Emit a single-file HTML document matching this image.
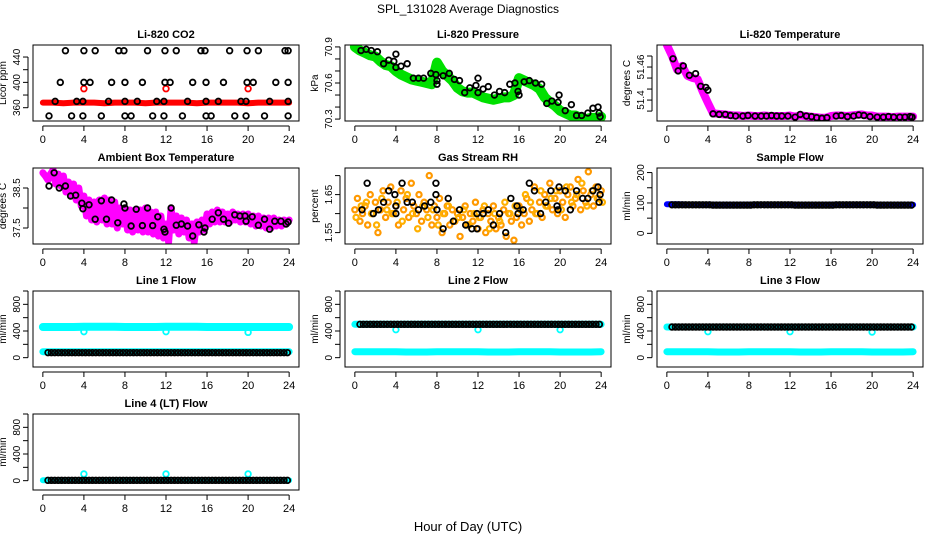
<!DOCTYPE html>
<html><head><meta charset="utf-8"><style>
body{margin:0;background:#fff}
svg text{font-family:"Liberation Sans",sans-serif}
</style></head><body>
<svg id="c" width="936" height="540" viewBox="0 0 936 540">
<text x="468" y="13" font-size="12" text-anchor="middle">SPL_131028  Average Diagnostics</text>
<text x="468" y="531" font-size="13" text-anchor="middle">Hour of Day (UTC)</text>
</svg>
<script>
// ---- data ----
const xTicks=[0,4,8,12,16,20,24];
const co2Red=[368,368,367,368,368,368,367,368,368,368,367,368,368,368,368,367,368,368,368,368,367,368,368,368,368];
const co2RedSpikesT=[4,12,20];
const co2RedSpikesV=[390,390,390];
const co2BlkT=[2.2,4,5.1,7.4,7.9,10.2,11.9,13,15.4,15.8,18.2,19.9,21,23.6,23.9,1.7,4,4.6,6.7,8,9.7,11.9,12.4,14.6,15.9,17.6,19.9,20.5,22.7,23.9,1.2,3.3,3.9,6.4,8,9.2,11.1,11.8,14.1,15.9,17.1,19.3,19.8,22.1,23.9,0.6,2.8,3.9,5.7,8,8.6,10.7,11.8,13.6,15.9,16.4,18.7,19.8,21.6,23.9];
const co2BlkV=[450,450,450,450,450,450,450,450,450,450,450,450,450,450,450,400,400,400,400,400,400,400,400,400,400,400,400,400,400,400,370,370,370,370,370,370,370,370,370,370,370,370,370,370,370,347,347,347,347,347,347,347,347,347,347,347,347,347,347,347];
const presGreen=[70.90,70.87,70.85,70.83,70.82,70.78,70.75,70.74,70.70,70.67,70.65,70.63,70.62,70.61,70.60,70.59,70.77,70.70,70.66,70.62,70.56,70.53,70.52,70.52,70.50,70.48,70.47,70.46,70.47,70.48,70.48,70.50,70.64,70.62,70.60,70.58,70.55,70.48,70.44,70.41,70.37,70.35,70.33,70.33,70.31,70.30,70.31,70.31,70.32];
const presBlkT=[0.6,1.1,1.6,2.2,2.8,3.3,3.8,4,4,4.5,5.1,5.7,6.2,6.7,7.4,7.9,8,8,8.6,9.2,9.7,10.2,10.7,11.2,11.8,12,12,12.5,13,13.6,14.1,14.6,15.1,15.6,15.9,16,16.5,17,17.6,18.2,18.7,19.2,19.8,19.9,20.5,21.1,21.6,22.1,22.7,23.2,23.7,23.8,23.9];
const presBlkV=[70.87,70.88,70.87,70.86,70.76,70.79,70.78,70.84,70.73,70.74,70.76,70.64,70.64,70.64,70.68,70.67,70.62,70.59,70.66,70.68,70.63,70.62,70.52,70.56,70.58,70.64,70.52,70.55,70.57,70.50,70.53,70.52,70.59,70.60,70.53,70.50,70.61,70.62,70.60,70.59,70.43,70.45,70.44,70.50,70.37,70.42,70.33,70.33,70.35,70.39,70.40,70.35,70.32];
const tempMag=[51.500,51.480,51.455,51.462,51.444,51.440,51.438,51.415,51.395,51.376,51.375,51.374,51.373,51.372,51.372,51.371,51.372,51.371,51.371,51.372,51.371,51.371,51.371,51.371,51.372,51.370,51.372,51.371,51.370,51.369,51.368,51.368,51.371,51.372,51.372,51.371,51.372,51.373,51.374,51.372,51.372,51.370,51.370,51.370,51.369,51.370,51.370,51.370,51.370];
const tempBlkT=[0.6,1.1,1.6,2.2,2.8,3.3,3.8,4,4.5,5.1,5.7,6.2,6.7,7.4,7.9,8.6,9.2,9.7,10.2,10.7,11.2,11.8,12.5,13,13.6,14.1,14.6,15.1,15.6,16.5,17,17.6,18.2,18.7,19.2,19.8,20.5,21.1,21.6,22.1,22.7,23.2,23.7,23.9];
const tempBlkV=[51.475,51.453,51.462,51.445,51.448,51.425,51.423,51.418,51.375,51.374,51.374,51.372,51.371,51.371,51.372,51.371,51.371,51.371,51.372,51.371,51.371,51.371,51.369,51.374,51.371,51.370,51.368,51.367,51.368,51.371,51.372,51.370,51.371,51.373,51.372,51.370,51.369,51.369,51.370,51.369,51.369,51.369,51.370,51.369];
const ambMag=[38.88,38.80,38.70,38.85,38.95,38.60,38.85,38.55,38.80,38.40,38.65,38.30,38.60,38.20,38.50,38.05,38.30,37.80,38.20,37.70,38.15,37.65,38.20,37.70,38.25,37.60,38.20,37.60,38.15,37.50,38.00,37.60,37.95,37.45,37.95,37.40,37.95,37.45,37.95,37.40,38.00,37.40,37.90,37.35,37.90,37.30,37.80,37.25,37.60,37.15,38.00,37.45,37.80,37.35,37.75,37.40,37.70,37.25,37.60,37.15,37.65,37.40,37.70,37.45,37.85,37.60,37.90,37.65,37.95,37.65,37.90,37.65,37.85,37.65,37.90,37.70,37.85,37.65,37.85,37.65,37.85,37.60,37.80,37.55,37.80,37.55,37.75,37.50,37.75,37.50,37.75,37.55,37.70,37.55,37.70,37.60,37.70];
const ambBlkT=[0.6,1.1,1.6,2.2,2.7,3.2,3.8,3.9,4.5,5.1,5.7,6.2,6.7,7.3,7.9,8,8.6,9.1,9.7,10.2,10.7,11.2,11.8,11.9,12.5,13,13.5,14.1,14.6,15.2,15.7,15.8,16.5,17.1,17.6,18.1,18.7,19.2,19.7,19.8,20.4,21,21.6,22.1,22.6,23.2,23.7,23.9];
const ambBlkV=[38.55,38.88,38.50,38.55,38.30,38.32,38.12,37.98,38.08,37.72,38.18,37.72,38.20,37.63,38.10,38.00,37.55,37.97,37.56,38.00,37.56,37.78,37.47,37.40,38.00,37.57,37.60,37.55,37.30,37.58,37.40,37.50,37.72,37.88,37.72,37.62,37.83,37.80,37.80,37.67,37.78,37.57,37.72,37.47,37.67,37.67,37.60,37.65];
const rhA=[1.61,1.64,1.58,1.60,1.62,1.57,1.65,1.60,1.63,1.55,1.61,1.66,1.59,1.63,1.67,1.60,1.62,1.57,1.66,1.61,1.64,1.59,1.68,1.62,1.60,1.65,1.58,1.63,1.61,1.70,1.57,1.62,1.59,1.64,1.55,1.60,1.62,1.57,1.61,1.58,1.60,1.54,1.59,1.62,1.57,1.60,1.58,1.63,1.56,1.59,1.61,1.55,1.60,1.58,1.62,1.56,1.59,1.57,1.61,1.54,1.60,1.58,1.53,1.59,1.62,1.57,1.60,1.64,1.58,1.61,1.67,1.60,1.63,1.59,1.65,1.62,1.68,1.61,1.64,1.60,1.66,1.63,1.59,1.65,1.67,1.62,1.64,1.69,1.61,1.66,1.63,1.71,1.65,1.62,1.67,1.64,1.66];
const rhB=[1.59,1.62,1.63,1.60,1.57,1.64,1.61,1.60,1.63,1.58,1.65,1.60,1.56,1.62,1.59,1.61,1.57,1.60,1.62,1.58,1.59,1.61,1.57,1.60,1.59,1.62,1.56,1.60,1.58,1.63,1.60,1.62,1.61,1.65,1.63,1.60,1.66,1.62,1.64,1.66,1.61,1.67,1.63,1.65,1.68,1.62,1.66,1.64,1.63];
const rhBlkT=[0.7,1.2,1.8,2.3,2.8,3.3,3.9,4,4,4.6,5.1,5.6,6.2,6.8,7.4,7.9,7.9,8,8.6,9.1,9.6,10.2,10.8,11.4,11.9,11.9,12.5,13,13.5,14.1,14.7,15.2,15.8,15.9,16.4,17,17.5,18.1,18.6,19.1,19.7,19.8,19.9,20.5,21,21.6,22.2,22.7,23.2,23.7,23.8,23.9];
const rhBlkV=[1.61,1.68,1.60,1.61,1.63,1.66,1.65,1.62,1.60,1.68,1.63,1.63,1.61,1.62,1.63,1.68,1.65,1.61,1.56,1.64,1.58,1.61,1.57,1.56,1.56,1.60,1.60,1.61,1.57,1.60,1.55,1.64,1.62,1.60,1.61,1.68,1.66,1.60,1.63,1.66,1.62,1.61,1.67,1.66,1.61,1.66,1.64,1.64,1.66,1.67,1.63,1.65];
const sampBlue=[96,96,95,95,95,94,94,94,95,95,95,95,95,94,94,94,95,95,95,95,94,94,94,94,94];
const sampBlk=[94,94,94,94,93,93,93,93,94,94,94,94,93,93,93,93,94,94,94,94,93,93,93,93];
const l1CyanHi=[460,460,460,460,465,465,465,465,460,460,460,460,465,465,465,465,460,460,460,460,460,460,460,460,460];
const l1CyanLo=[90,90,90,90,90,90,90,90,90,90,90,90,90,90,90,90,90,90,90,90,90,90,90,90,90];
const l1Blk=[75,75,75,75,75,75,75,75,75,75,75,75,75,75,75,75,75,75,75,75,75,75,75,75];
const l2CyanHi=[500,500,500,500,500,500,500,500,500,500,500,500,500,500,500,500,500,500,500,500,500,500,500,500,500];
const l2CyanLo=[90,90,90,90,90,85,85,85,90,90,90,90,90,85,85,85,90,90,90,90,85,85,85,85,90];
const l2Blk=[500,500,500,500,500,500,500,500,500,500,500,500,500,500,500,500,500,500,500,500,500,500,500,500];
const l3CyanHi=[460,460,460,460,460,460,460,460,460,460,460,460,460,460,460,460,460,460,460,460,460,460,460,460,460];
const l3CyanLo=[90,90,90,90,90,85,85,85,90,90,90,90,90,85,85,85,90,90,90,90,85,85,85,85,90];
const l3Blk=[460,460,460,460,460,460,460,460,460,460,460,460,460,460,460,460,460,460,460,460,460,460,460,460];
const l4Cyan=[5,5,5,5,5,5,5,5,5,5,5,5,5,5,5,5,5,5,5,5,5,5,5,5,5];
const l4Blk=[5,5,5,5,5,5,5,5,5,5,5,5,5,5,5,5,5,5,5,5,5,5,5,5];
const dipT=[4,12,20];
const l1Dip=[390,390,380];
const l2Dip=[420,420,420];
const l3Dip=[390,390,385];
const l4Bump=[100,100,100];

// ---- rendering ----
const svg=document.getElementById('c');
const NS='http://www.w3.org/2000/svg';
function mk(tag,attrs,parent){const e=document.createElementNS(NS,tag);for(const k in attrs)e.setAttribute(k,attrs[k]);(parent||svg).appendChild(e);return e;}

function panel(col,row,name,title,ylab,ymin,ymax,yticks,ylabels){
  const L=33+312*col,T=45+123*row,W=266,H=76;
  const g=mk('g',{});
  
  
  const x=t=>L+(t+0.96)/25.92*W;
  const y=v=>T+H-(v-ymin)/(ymax-ymin)*H;
  const tt=mk('text',{x:L+W/2,y:T-7,'font-size':11,'font-weight':'bold','text-anchor':'middle'},g);
  tt.textContent=title;
  
  
  const clip=mk('clipPath',{id:'cl'+name},g);
  mk('rect',{x:L,y:T,width:W,height:H},clip);
  const plot=mk('g',{'clip-path':'url(#cl'+name+')'},g);
  
  
  const box=mk('rect',{x:L,y:T,width:W,height:H,fill:'none',stroke:'#000','stroke-width':1},g);
  
  
  const xa=mk('g',{},g);
  
  
  mk('line',{x1:x(0),x2:x(24),y1:T+H+5,y2:T+H+5,stroke:'#000'},xa);
  xTicks.forEach(t=>{mk('line',{x1:x(t),x2:x(t),y1:T+H+5,y2:T+H+10,stroke:'#000'},xa);
    const tx=mk('text',{x:x(t),y:T+H+22,'font-size':11,'text-anchor':'middle'},xa);tx.textContent=t;});
  const ya=mk('g',{},g);
  
  
  mk('line',{x1:L-5,x2:L-5,y1:y(yticks[0]),y2:y(yticks[yticks.length-1]),stroke:'#000'},ya);
  yticks.forEach(v=>mk('line',{x1:L-10,x2:L-5,y1:y(v),y2:y(v),stroke:'#000'},ya));
  ylabels.forEach(v=>{const yy=y(v);const tx=mk('text',{x:L-13,y:yy,'font-size':10,'text-anchor':'middle',transform:`rotate(-90 ${L-13} ${yy})`},ya);tx.textContent=v;});
  const yl=mk('text',{x:L-27,y:T+H/2,'font-size':10,'text-anchor':'middle',transform:`rotate(-90 ${L-27} ${T+H/2})`},g);
  yl.textContent=ylab;
  
  
  return {x,y,plot};
}
function band(p,vals,step,color,w,nm){
  const pts=vals.map((v,i)=>p.x(i*step).toFixed(1)+','+p.y(v).toFixed(1)).join(' ');
  const e=mk('polyline',{points:pts,fill:'none',stroke:color,'stroke-width':w,'stroke-linejoin':'round','stroke-linecap':'round'},p.plot);
  
  
}
function pts(p,ts,vs,color,nm,r,sw){
  const g=mk('g',{},p.plot);
  
  
  vs.forEach((v,i)=>mk('circle',{cx:p.x(ts[i]),cy:p.y(v),r:r||2.8,fill:'none',stroke:color,'stroke-width':sw||1.8},g));
}
function stepPts(p,vals,step,color,nm,r,sw){pts(p,vals.map((v,i)=>i*step),vals,color,nm,r,sw);}
function hourly3(p,vals,color,nm){
  const ts=[],vs=[];vals.forEach((v,h)=>{[0.5,0.83,1.16].forEach(o=>{if(h+o<=23.95){ts.push(h+o);vs.push(v);}});});
  pts(p,ts,vs,color,nm);
}

let p=panel(0,0,'co2','Li-820 CO2','Licor ppm',339,459,[360,380,400,420,440],[360,400,440]);
band(p,co2Red,1,'#ff0000',6,'co2-red-series');
pts(p,co2RedSpikesT,co2RedSpikesV,'#ff0000','co2-red-spikes');
pts(p,co2BlkT,co2BlkV,'#000','co2-black-points');
p=panel(1,0,'pressure','Li-820 Pressure','kPa',70.284,70.916,[70.3,70.4,70.5,70.6,70.7,70.8,70.9],[70.3,70.6,70.9]);
band(p,presGreen,0.5,'#00e000',10,'pressure-green-series');
pts(p,presBlkT,presBlkV,'#000','pressure-black-points');
p=panel(2,0,'li820-temp','Li-820 Temperature','degrees C',51.362,51.50,[51.38,51.40,51.42,51.44,51.46,51.48],[51.40,51.46]);
band(p,tempMag,0.5,'#ff00ff',8,'li820-temp-magenta-series');
pts(p,tempBlkT,tempBlkV,'#000','li820-temp-black-points');
p=panel(0,1,'ambient','Ambient Box Temperature','degrees C',37.1,39.0,[37.5,38.0,38.5],[37.5,38.5]);
band(p,ambMag,0.25,'#ff00ff',7,'ambient-magenta-series');
pts(p,ambBlkT,ambBlkV,'#000','ambient-black-points');
p=panel(1,1,'rh','Gas Stream RH','percent',1.52,1.72,[1.55,1.60,1.65,1.70],[1.55,1.65]);
stepPts(p,rhA,0.25,'#ff9900','rh-orange-points-a',2.6,2.2);
pts(p,rhB.map((v,i)=>i*0.5+0.12),rhB,'#ffb000','rh-orange-points-b',2.6,2.2);
pts(p,rhBlkT,rhBlkV,'#000','rh-black-points');
p=panel(2,1,'sample-flow','Sample Flow','ml/min',-35,215,[0,50,100,150,200],[0,100,200]);
band(p,sampBlue,1,'#0000ff',6,'sample-flow-blue-series');
hourly3(p,sampBlk,'#000','sample-flow-black-points');
const fT=[0,200,400,600,800,1000],fL=[0,400,800];
p=panel(0,2,'line1','Line 1 Flow','ml/min',-140,1000,fT,fL);
band(p,l1CyanHi,1,'#00ffff',8,'line1-cyan-high');band(p,l1CyanLo,1,'#00ffff',7,'line1-cyan-low');
pts(p,dipT,l1Dip,'#00ffff','line1-cyan-dips');hourly3(p,l1Blk,'#000','line1-black-points');
p=panel(1,2,'line2','Line 2 Flow','ml/min',-140,1000,fT,fL);
band(p,l2CyanHi,1,'#00ffff',7,'line2-cyan-high');band(p,l2CyanLo,1,'#00ffff',7,'line2-cyan-low');
pts(p,dipT,l2Dip,'#00ffff','line2-cyan-dips');hourly3(p,l2Blk,'#000','line2-black-points');
p=panel(2,2,'line3','Line 3 Flow','ml/min',-140,1000,fT,fL);
band(p,l3CyanHi,1,'#00ffff',7,'line3-cyan-high');band(p,l3CyanLo,1,'#00ffff',7,'line3-cyan-low');
pts(p,dipT,l3Dip,'#00ffff','line3-cyan-dips');hourly3(p,l3Blk,'#000','line3-black-points');
p=panel(0,3,'line4','Line 4 (LT) Flow','ml/min',-140,1000,fT,fL);
band(p,l4Cyan,1,'#00ffff',6,'line4-cyan-series');
pts(p,dipT,l4Bump,'#00ffff','line4-cyan-bumps');hourly3(p,l4Blk,'#000','line4-black-points');
</script>
</body></html>
